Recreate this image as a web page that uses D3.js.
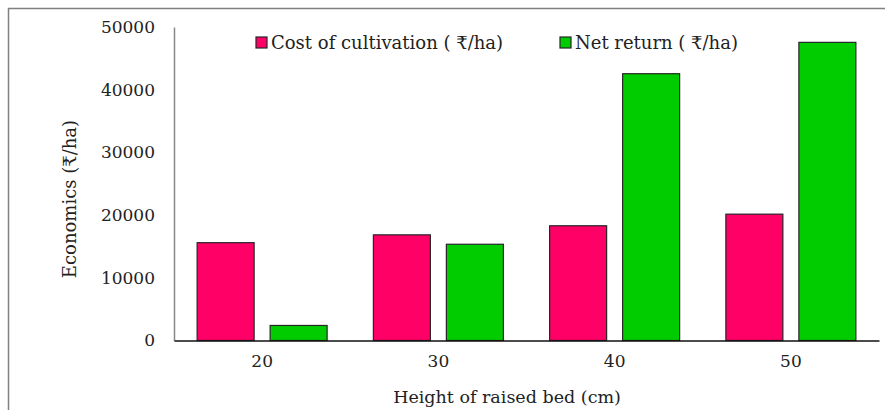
<!DOCTYPE html>
<html>
<head>
<meta charset="utf-8">
<script src="https://cdn.jsdelivr.net/npm/d3@7"></script>
<style>
  body { margin: 0; background: #fff; }
  text { font-family: "DejaVu Serif", serif; fill: #222; }
</style>
</head>
<body>
<script>
'use strict';
// data
let heights = ["20", "30", "40", "50"];
let seriesNames = ["Cost of cultivation ( \u20B9/ha)", "Net return ( \u20B9/ha)"];
let costValues = [15600, 16850, 18300, 20150];
let returnValues = [2400, 15350, 42550, 47550];
let yTicks = [0, 10000, 20000, 30000, 40000, 50000];
let colors = ["#ff0066", "#00cc00"];

let width = 885, height = 410;
let margin = {top: 27, right: 6, bottom: 70, left: 174};
let fontSize = 17;

let svg = d3.select("body").append("svg")
	.attr("width", width)
	.attr("height", height);

// outer frame (only top/left visible in the crop)
svg.append("path")
	.attr("d", "M8.5," + height + " L8.5,8.5 L" + width + ",8.5")
	.attr("fill", "none")
	.attr("stroke", "#808080")
	.attr("stroke-width", 1.5);

let x = d3.scaleBand()
	.domain(heights)
	.range([margin.left, width - margin.right]);

let y = d3.scaleLinear()
	.domain([0, 50000])
	.range([340.5, margin.top]);

let rows = heights.map(function(h, i) {
	return {h: h, vals: [costValues[i], returnValues[i]]};
});

let barW = 57, gap = 16;
let inner = d3.scalePoint()
	.domain([0, 1])
	.range([0, barW + gap]);

let groups = svg.selectAll("g.grp")
	.data(rows)
	.enter().append("g")
		.attr("class", "grp")
		.attr("transform", function(d) {
			return "translate(" + (x(d.h) + (x.bandwidth() - (barW * 2 + gap)) / 2) + ",0)";
		});

groups.selectAll("rect")
	.data(function(d) { return d.vals; })
	.enter().append("rect")
		.attr("x", function(d, i) { return inner(i); })
		.attr("y", function(d) { return y(d); })
		.attr("width", barW)
		.attr("height", function(d) { return y(0) - y(d); })
		.attr("fill", function(d, i) { return colors[i]; })
		.attr("stroke", "#262626")
		.attr("stroke-width", 1.2);

// y axis
let yAxis = svg.append("g")
	.attr("transform", "translate(" + margin.left + ",0)")
	.call(d3.axisLeft(y).tickValues(yTicks).tickSize(0).tickPadding(19).tickFormat(d3.format("d")));
yAxis.select(".domain").attr("stroke", "#888").attr("stroke-width", 1.5);
yAxis.selectAll("text")
	.attr("font-size", fontSize)
	.style("font-family", "DejaVu Serif, serif")
	.attr("fill", "#222");

// x axis
let xAxis = svg.append("g")
	.attr("transform", "translate(0," + y(0) + ")")
	.call(d3.axisBottom(x).tickSize(0).tickPadding(14));
xAxis.select(".domain").attr("stroke", "#111").attr("stroke-width", 1.5);
xAxis.selectAll("text")
	.attr("font-size", fontSize)
	.style("font-family", "DejaVu Serif, serif")
	.attr("fill", "#222");

// axis titles
svg.append("text")
	.attr("x", 507)
	.attr("y", 403)
	.attr("text-anchor", "middle")
	.attr("font-size", 17.5)
	.text("Height of raised bed (cm)");

svg.append("text")
	.attr("transform", "translate(76,199) rotate(-90)")
	.attr("text-anchor", "middle")
	.attr("font-size", 18)
	.text("Economics (\u20B9/ha)");

// legend
let legendX = [256, 560];
let legend = svg.selectAll("g.leg")
	.data(seriesNames)
	.enter().append("g")
		.attr("class", "leg")
		.attr("transform", function(d, i) { return "translate(" + legendX[i] + ",37)"; });

legend.append("rect")
	.attr("width", 11)
	.attr("height", 11)
	.attr("fill", function(d, i) { return colors[i]; })
	.attr("stroke", "#262626")
	.attr("stroke-width", 1.2);

legend.append("text")
	.attr("x", 15)
	.attr("y", 11.5)
	.attr("font-size", 18)
	.text(function(d) { return d; });
</script>
</body>
</html>
